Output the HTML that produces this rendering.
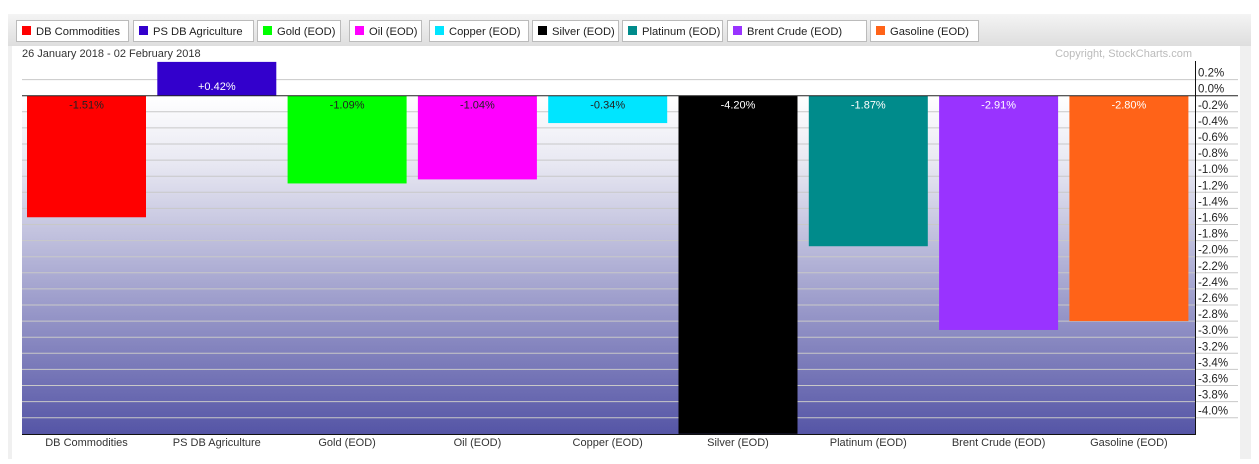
<!DOCTYPE html>
<html><head><meta charset="utf-8"><style>
html,body{margin:0;padding:0;background:#fff;}
body{width:1259px;height:459px;overflow:hidden;font-family:"Liberation Sans",Arial,sans-serif;}
</style></head><body>
<svg width="1259" height="459" xmlns="http://www.w3.org/2000/svg" font-family="Liberation Sans, Arial, sans-serif">
<defs>
<linearGradient id="bg" x1="0" y1="0" x2="0" y2="1">
<stop offset="0" stop-color="#ffffff"/>
<stop offset="0.2" stop-color="#e8e8f2"/>
<stop offset="1" stop-color="#5555a6"/>
</linearGradient>
<linearGradient id="lg" x1="0" y1="0" x2="0" y2="1">
<stop offset="0" stop-color="#f4f4f4"/>
<stop offset="1" stop-color="#dedede"/>
</linearGradient>
</defs>
<rect x="8" y="14" width="1243" height="445" fill="#f0f0f0"/>
<rect x="12" y="46" width="1228" height="413" fill="#fff"/>
<rect x="8" y="14" width="1243" height="32" fill="url(#lg)"/>
<g font-size="11.2" fill="#222">
<g id="leg"></g>
</g>
<text x="22" y="57" font-size="11" fill="#333">26 January 2018 - 02 February 2018</text>
<text x="1192" y="57" font-size="11" fill="#bbb" text-anchor="end">Copyright, StockCharts.com</text>
<rect x="22" y="95.7" width="1173" height="338.3" fill="url(#bg)"/>
<g id="grid"></g>
<g id="bars"></g>
<line x1="22" y1="95.7" x2="1238" y2="95.7" stroke="#222" stroke-width="1"/>
<line x1="22" y1="434.5" x2="1195" y2="434.5" stroke="#111" stroke-width="1"/>
<line x1="1195.5" y1="61" x2="1195.5" y2="435" stroke="#111" stroke-width="1"/>
<g id="xl" font-size="11" fill="#333" text-anchor="middle"></g>
</svg>
<script>
var ns="http://www.w3.org/2000/svg";
function el(p,t,a,txt){var e=document.createElementNS(ns,t);for(var k in a)e.setAttribute(k,a[k]);if(txt!=null)e.textContent=txt;document.getElementById(p).appendChild(e);return e;}
var Y=function(v){return 95.7-v*80.5;};
for(var i=1;i>=-20;i--){var v=i*0.2;
if(i!=0)el("grid","line",{x1:22,x2:1238,y1:Y(v),y2:Y(v),stroke:"#c8c8c8","stroke-width":1});
el("grid","text",{x:1198,y:Y(v)-3,"font-size":11.5,fill:"#222"},(i==0?"0.0%":(v>0?"":"-")+Math.abs(v).toFixed(1)+"%"));}
var d=[["DB Commodities",-1.51,"#ff0000","#222"],["PS DB Agriculture",0.42,"#3300cc","#fff"],["Gold (EOD)",-1.09,"#00ff00","#222"],["Oil (EOD)",-1.04,"#ff00ff","#222"],["Copper (EOD)",-0.34,"#00e5ff","#222"],["Silver (EOD)",-4.20,"#000000","#fff"],["Platinum (EOD)",-1.87,"#008b8b","#fff"],["Brent Crude (EOD)",-2.91,"#9933ff","#fff"],["Gasoline (EOD)",-2.80,"#ff6318","#fff"]];
var lx=[16,133,257,349,429,532,622,727,870],lw=[112,120,83,72,99,86,100,139,108];
d.forEach(function(b,i){var x=27+i*130.3;var t=Y(Math.max(b[1],0)),bt=Y(Math.min(b[1],0));
el("bars","rect",{x:x,y:t,width:119,height:bt-t,fill:b[2]});
var ty=b[1]>0?t+28:t+13;
el("bars","text",{x:x+59.5,y:ty,"font-size":11,fill:b[3],"text-anchor":"middle"},(b[1]>0?"+":"")+b[1].toFixed(2)+"%");
el("xl","text",{x:x+59.5,y:446},b[0]);
el("leg","rect",{x:lx[i]+0.5,y:20.5,width:lw[i],height:21,fill:"#fff",stroke:"#bbb"});
el("leg","rect",{x:lx[i]+6,y:26,width:9,height:9,fill:b[2]});
el("leg","text",{x:lx[i]+20,y:35},b[0]);});
</script>
</body></html>
